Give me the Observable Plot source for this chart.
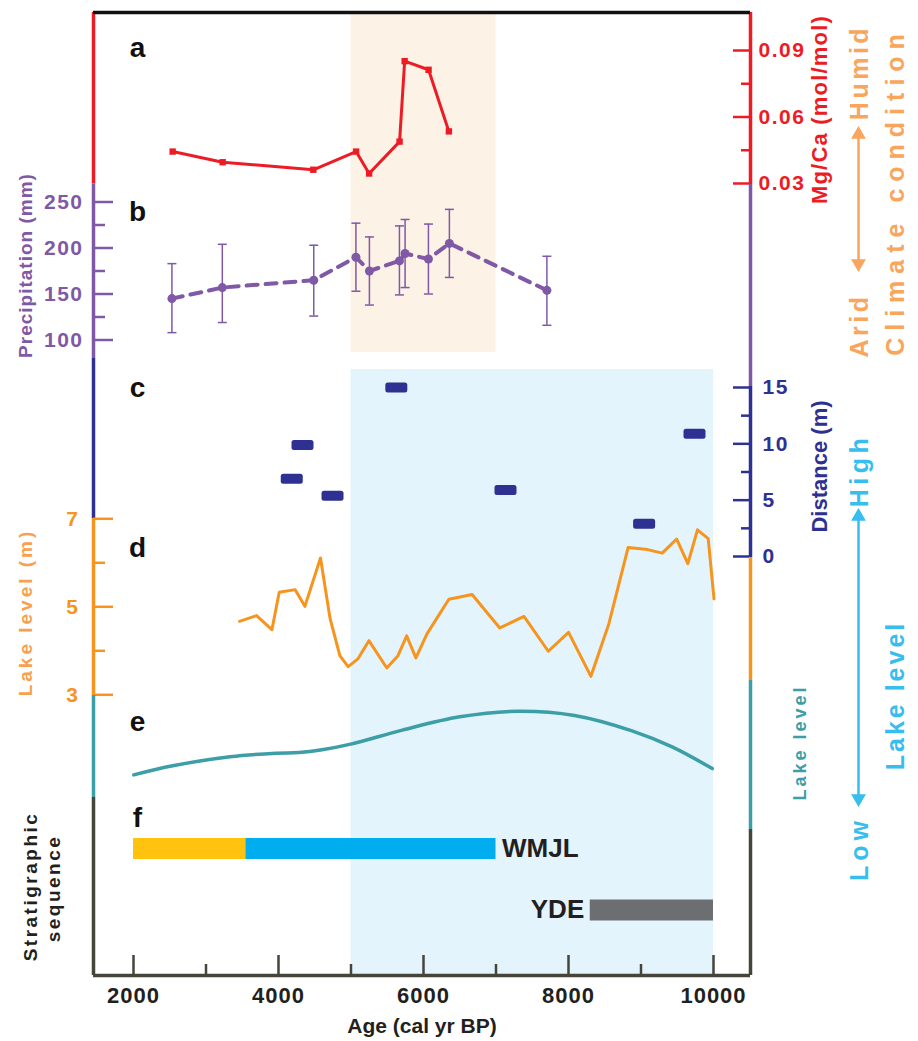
<!DOCTYPE html>
<html><head><meta charset="utf-8">
<script src="https://cdn.jsdelivr.net/npm/d3@7"></script>
<script src="https://cdn.jsdelivr.net/npm/@observablehq/plot@0.6"></script>
<style>
body{margin:0;background:#fff;}
#chart{position:relative;width:918px;height:1041px;overflow:hidden;}
#chart svg{position:absolute;left:0;top:0;}
#chart g[aria-label="y-axis tick label"]{letter-spacing:1.5px;}
#chart g[aria-label="x-axis tick label"]{letter-spacing:1px;}
</style></head><body><div id="chart"></div>
<script>
// ---------------- data ----------------
// (a) Mg/Ca (mol/mol)
const mgcaAge   = [2540, 3230, 4480, 5070, 5250, 5670, 5740, 6070, 6350];
const mgcaValue = [0.0444, 0.0396, 0.0362, 0.0444, 0.0345, 0.0489, 0.0852, 0.0813, 0.0535];
const mgcaTicks = [0.03, 0.06, 0.09];
const mgcaMinor = [0.045, 0.075];

// (b) Precipitation (mm) with error bars
const precipAge   = [2530, 3225, 4486, 5068, 5254, 5668, 5746, 6068, 6357, 7702];
const precipValue = [145, 157, 165, 190, 175, 186, 194, 188, 205, 154];
const precipLow   = [108, 119, 126, 153, 138, 149, 157, 150, 168, 116];
const precipHigh  = [183, 204, 203, 227, 212, 224, 231, 226, 242, 191];
const precipTicks = [100, 150, 200, 250];
const precipMinor = [125, 175, 225];

// (c) Distance (m)
const distAge   = [4183, 4331, 4745, 5625, 7131, 9043, 9738];
const distValue = [6.9, 9.9, 5.4, 15.0, 5.9, 2.9, 10.9];
const distTicks = [0, 5, 10, 15];
const distMinor = [2.5, 7.5, 12.5];

// (d) Lake level (m)
const lakeAge = [3462, 3697, 3909, 4010, 4230, 4364, 4579, 4712, 4846, 4960, 5092, 5247, 5494, 5648, 5768, 5895, 6050,
                 6350, 6670, 7052, 7386, 7721, 8001, 8309, 8556, 8823, 9091, 9292, 9492, 9646, 9779, 9927, 10007];
const lakeValue = [4.67, 4.80, 4.48, 5.33, 5.39, 5.01, 6.11, 4.73, 3.89, 3.64, 3.81, 4.23, 3.61, 3.89, 4.34, 3.84, 4.39,
                   5.17, 5.28, 4.52, 4.78, 3.99, 4.42, 3.42, 4.61, 6.35, 6.30, 6.22, 6.54, 5.98, 6.75, 6.55, 5.18];
const lakeTicks = [3, 5, 7];
const lakeMinor = [4, 6];

// (e) relative lake level (smooth curve, no scale)
const relAge   = [2003, 2541, 3332, 3966, 4283, 4600, 4996, 5708, 6499, 7291, 8083, 8876, 9429, 9983];
const relValue = [0.08, 0.21, 0.34, 0.39, 0.40, 0.44, 0.52, 0.72, 0.91, 0.99, 0.93, 0.71, 0.48, 0.17];

// (f) stratigraphic sequence
const strataName  = ["WMJL-a", "WMJL-b", "YDE"];
const strataRow   = [2, 2, 1];
const strataStart = [2000, 3550, 8300];
const strataEnd   = [3550, 7000, 10000];
const strataColor = ["#ffc20e", "#00aeef", "#6d6e71"];
const strataLabel = [{name: "WMJL", row: 2, age: 7000, side: "right"}, {name: "YDE", row: 1, age: 8300, side: "left"}];

// x axis
const ageTicks = [2000, 4000, 6000, 8000, 10000];
const ageMinor = [3000, 5000, 7000, 9000];

// shaded periods
const humidPeriod = [5000, 7000];
const highLakePeriod = [5000, 10000];

// ---------------- layout ----------------
const W = 918, H = 1041;
const M = {top: 12, right: 168, bottom: 66, left: 93};
const TOP = M.top, BOTTOM = H - M.bottom;
const xAt = p => 2000 + (p - 133) * 8000 / 580;
const xDomain = [xAt(M.left), xAt(W - M.right)];
function lin(v0, p0, v1, p1) {
  const k = (v1 - v0) / (p1 - p0);
  const at = p => v0 + (p - p0) * k;
  return {domain: [at(BOTTOM), at(TOP)], at};
}
const A = lin(0.03, 183, 0.09, 50);
const B = lin(100, 339.5, 250, 201.5);
const C = lin(0, 556, 15, 387);
const D = lin(3, 694.3, 7, 518.3);
const E = lin(0, 780, 1, 710);
const F = lin(1, 909.5, 2, 848);

const col = {
  red: "#ed1c24", purple: "#7f58a6", navy: "#2e3192", orange: "#f7941d", lakeLabel: "#f8a04e",
  teal: "#3c9ea6", dark: "#45453a", climate: "#f9a55c", sky: "#37bdee",
  peach: "#fdf2e6", lightBlue: "#e3f4fc"
};
const FONT = "'Liberation Sans', Arial, Helvetica, sans-serif";
const xL = xDomain[0], xR = xDomain[1], xArrow = xAt(858);

const chart = document.getElementById("chart");
function layer(yDomain, marks, {xAxis = false, yAxis = false} = {}) {
  const svg = Plot.plot({
    width: W, height: H,
    marginTop: M.top, marginRight: M.right, marginBottom: M.bottom, marginLeft: M.left,
    x: xAxis ? {domain: xDomain} : {domain: xDomain, axis: null},
    y: yAxis ? {domain: yDomain} : {domain: yDomain, axis: null},
    style: `font-family:${FONT};font-weight:bold;background:transparent;overflow:visible;max-width:none;`,
    marks
  });
  svg.style.position = "absolute"; svg.style.left = "0px"; svg.style.top = "0px";
  chart.appendChild(svg);
  return svg;
}
const seg = (x, y1, y2, stroke) => Plot.ruleX([x], {x: d => d, y1: () => y1, y2: () => y2, stroke, strokeWidth: 3.5});
const letter = (t, cx, cy) => Plot.text([t], {text: d => d, frameAnchor: "top-left", dx: cx - M.left, dy: cy - M.top, textAnchor: "middle", lineAnchor: "middle", fontSize: 28, fontWeight: "bold", fill: "#111"});
const label = (t, cx, cy, fill, fontSize) => Plot.text([t], {text: d => d, frameAnchor: "top-left", dx: cx - M.left, dy: cy - M.top, rotate: -90, textAnchor: "middle", lineAnchor: "middle", fill, fontSize, fontWeight: "bold"});
const capSymbol = {draw(ctx) { ctx.moveTo(-4.5, 0); ctx.lineTo(4.5, 0); }};
const barSymbol = {draw(ctx) {
  const w = 11, h = 5, r = 2.5;
  ctx.moveTo(-w + r, -h); ctx.lineTo(w - r, -h); ctx.arcTo(w, -h, w, -h + r, r);
  ctx.lineTo(w, h - r); ctx.arcTo(w, h, w - r, h, r); ctx.lineTo(-w + r, h);
  ctx.arcTo(-w, h, -w, h - r, r); ctx.lineTo(-w, -h + r); ctx.arcTo(-w, -h, -w + r, -h, r); ctx.closePath();
}};
const tri = (x, y, rotate, fill) => Plot.dot([x], {x: d => d, y: () => y, symbol: "triangle", r: 5.5, rotate, fill, stroke: null});
const tickFont = {fontSize: 21, fontWeight: "bold", label: null};

// tables
const mgca = mgcaAge.map((age, i) => ({age, v: mgcaValue[i]}));
const precip = precipAge.map((age, i) => ({age, v: precipValue[i], lo: precipLow[i], hi: precipHigh[i]}));
const dist = distAge.map((age, i) => ({age, v: distValue[i]}));
const lake = lakeAge.map((age, i) => ({age, v: lakeValue[i]}));
const rel = relAge.map((age, i) => ({age, v: relValue[i]}));
const strata = strataName.map((name, i) => ({name, row: strataRow[i], x1: strataStart[i], x2: strataEnd[i], color: strataColor[i]}));

// ---------------- shading ----------------
layer(B.domain, [
  Plot.rect([humidPeriod], {x1: d => d[0], x2: d => d[1], y1: () => B.at(352), y2: () => B.domain[1], fill: col.peach}),
  Plot.rect([highLakePeriod], {x1: d => d[0], x2: d => d[1], y1: () => B.domain[0], y2: () => B.at(369), fill: col.lightBlue})
]);

// ---------------- (a) Mg/Ca ----------------
layer(A.domain, [
  seg(xL, A.at(183.5), A.at(TOP), col.red),
  seg(xR, A.at(184), A.at(TOP), col.red),
  Plot.ruleY([A.domain[1]], {y: d => d, stroke: "#111", strokeWidth: 3.5}),
  Plot.axisY({anchor: "right", ticks: mgcaTicks, tickSize: -18, tickPadding: 26, tickFormat: d3.format(".2f"), color: col.red, strokeWidth: 2.5, ...tickFont}),
  Plot.axisY({anchor: "right", ticks: mgcaMinor, tickSize: -10, tickFormat: () => "", color: col.red, strokeWidth: 2.5, label: null}),
  Plot.line(mgca, {x: "age", y: "v", stroke: col.red, strokeWidth: 3}),
  Plot.dot(mgca, {x: "age", y: "v", symbol: "square", r: 3.6, fill: col.red}),
  letter("a", 137, 48)
], {yAxis: true});

// ---------------- (b) Precipitation ----------------
layer(B.domain, [
  seg(xL, B.at(358), B.at(183.5), col.purple),
  seg(xR, B.at(386), B.at(184), col.purple),
  Plot.axisY({anchor: "left", ticks: precipTicks, tickSize: -20, tickPadding: 30, color: col.purple, strokeWidth: 2.5, ...tickFont}),
  Plot.axisY({anchor: "left", ticks: precipMinor, tickSize: -12, tickFormat: () => "", color: col.purple, strokeWidth: 2.5, label: null}),
  Plot.ruleX(precip, {x: "age", y1: "lo", y2: "hi", stroke: col.purple, strokeWidth: 1.5}),
  Plot.dot(precip, {x: "age", y: "lo", symbol: capSymbol, stroke: col.purple, strokeWidth: 1.5}),
  Plot.dot(precip, {x: "age", y: "hi", symbol: capSymbol, stroke: col.purple, strokeWidth: 1.5}),
  Plot.line(precip, {x: "age", y: "v", stroke: col.purple, strokeWidth: 4, strokeDasharray: "11,8"}),
  Plot.dot(precip, {x: "age", y: "v", r: 4.5, fill: col.purple}),
  // climate-condition double arrow
  Plot.ruleX([xArrow], {x: d => d, y1: () => B.at(262), y2: () => B.at(136), stroke: col.climate, strokeWidth: 2.5}),
  tri(xArrow, B.at(134), 0, col.climate),
  tri(xArrow, B.at(263), 180, col.climate),
  letter("b", 137, 212)
], {yAxis: true});

// ---------------- (c) Distance ----------------
layer(C.domain, [
  seg(xL, C.at(518), C.at(358), col.navy),
  seg(xR, C.at(557), C.at(386), col.navy),
  Plot.axisY({anchor: "right", ticks: distTicks, tickSize: -18, tickPadding: 30, color: col.navy, strokeWidth: 2.5, ...tickFont}),
  Plot.axisY({anchor: "right", ticks: distMinor, tickSize: -10, tickFormat: () => "", color: col.navy, strokeWidth: 2.5, label: null}),
  Plot.dot(dist, {x: "age", y: "v", symbol: barSymbol, fill: col.navy, stroke: null}),
  letter("c", 137, 388)
], {yAxis: true});

// ---------------- (d) Lake level ----------------
layer(D.domain, [
  seg(xL, D.at(695), D.at(518), col.orange),
  seg(xR, D.at(680), D.at(557), col.orange),
  Plot.axisY({anchor: "left", ticks: lakeTicks, tickSize: -20, tickPadding: 34, color: col.orange, strokeWidth: 2.5, ...tickFont}),
  Plot.axisY({anchor: "left", ticks: lakeMinor, tickSize: -12, tickFormat: () => "", color: col.orange, strokeWidth: 2.5, label: null}),
  Plot.line(lake, {x: "age", y: "v", stroke: col.orange, strokeWidth: 3}),
  // lake-level double arrow
  Plot.ruleX([xArrow], {x: d => d, y1: () => D.at(796), y2: () => D.at(518), stroke: col.sky, strokeWidth: 2.5}),
  tri(xArrow, D.at(516), 0, col.sky),
  tri(xArrow, D.at(798), 180, col.sky),
  letter("d", 137, 548)
], {yAxis: true});

// ---------------- (e) smooth lake level ----------------
layer(E.domain, [
  seg(xL, E.at(797), E.at(695), col.teal),
  seg(xR, E.at(829), E.at(680), col.teal),
  Plot.line(rel, {x: "age", y: "v", stroke: col.teal, strokeWidth: 3.5, curve: "catmull-rom"}),
  letter("e", 137, 722)
]);

// ---------------- (f) stratigraphy + x axis ----------------
layer(F.domain, [
  seg(xL, F.domain[0], F.at(797), col.dark),
  seg(xR, F.domain[0], F.at(829), col.dark),
  Plot.ruleY([F.domain[0]], {y: d => d, stroke: col.dark, strokeWidth: 3.5}),
  Plot.ruleY(strata, {y: "row", x1: "x1", x2: "x2", stroke: "color", strokeWidth: 21}),
  Plot.text(strataLabel.filter(d => d.side === "right"), {x: "age", y: "row", text: "name", textAnchor: "start", dx: 6, fontSize: 26, fontWeight: "bold", fill: "#231f20"}),
  Plot.text(strataLabel.filter(d => d.side === "left"), {x: "age", y: "row", text: "name", textAnchor: "end", dx: -6, fontSize: 26, fontWeight: "bold", fill: "#231f20"}),
  Plot.axisX({anchor: "bottom", ticks: ageTicks, tickSize: -20, tickPadding: 32, tickFormat: d => String(d), color: "#231f20", stroke: col.dark, strokeWidth: 2.5, fontSize: 22, fontWeight: "bold", label: null}),
  Plot.axisX({anchor: "bottom", ticks: ageMinor, tickSize: -11, tickFormat: () => "", stroke: col.dark, strokeWidth: 2.5, label: null}),
  Plot.text(["Age (cal yr BP)"], {text: d => d, frameAnchor: "bottom", dy: 51, lineAnchor: "middle", fontSize: 21, fontWeight: "bold", fill: "#231f20"}),
  letter("f", 137, 818)
], {xAxis: true});

// ---------------- side labels ----------------
const ann = layer([0, 1], [
  label("Precipitation (mm)", 25, 265, col.purple, 19),
  label("Lake level (m)", 25, 612, col.lakeLabel, 19),
  label("Stratigraphic", 30, 886, "#231f20", 19),
  label("sequence", 53, 888, "#231f20", 19),
  label("Mg/Ca (mol/mol)", 819, 109, col.red, 22),
  label("Distance (m)", 819, 466, col.navy, 22),
  label("Humid", 859, 72, col.climate, 25),
  label("Arid", 859, 325, col.climate, 25),
  label("Climate condition", 895, 191, col.climate, 25),
  label("High", 859, 470, col.sky, 25),
  label("Low", 859, 848, col.sky, 25),
  label("Lake level", 895, 695, col.sky, 25),
  label("Lake level", 800, 742, col.teal, 18)
]);
const spacing = {"Precipitation (mm)": 1, "Lake level (m)": 3, "Stratigraphic": 2.5, "sequence": 2.5, "Mg/Ca (mol/mol)": 1.2,
  "Humid": 3.5, "Arid": 3.5, "Climate condition": 7, "High": 4.5, "Low": 5, "Lake level": 6};
d3.select(ann).selectAll("text").each(function() {
  let s = spacing[this.textContent];
  if (this.textContent === "Lake level" && +this.getAttribute("font-size") < 20) s = 3;
  if (s) this.setAttribute("letter-spacing", s);
});
</script></body></html>
